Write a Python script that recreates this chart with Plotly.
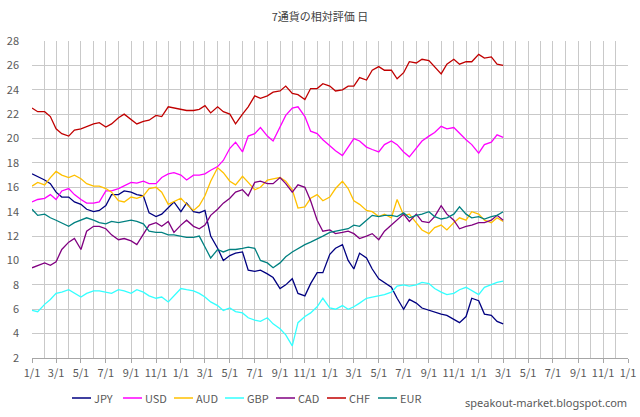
import plotly.graph_objects as go
import pandas as pd

# semi-monthly observation dates (1st and 15th), Jan 2021 - Mar 2024
dates = pd.date_range("2021-01-01", "2024-03-01", freq="SMS")

series_names = ["JPY", "USD", "AUD", "GBP", "CAD", "CHF", "EUR"]
series_colors = ["#000080", "#FF00FF", "#FFC000", "#33FFFF", "#800080", "#C00000", "#008080"]

JPY = [17.1, 16.9, 16.6, 16.3, 15.6, 15.2, 15.2, 14.8, 14.6, 14.2, 14.0, 14.1, 14.5,
       15.4, 15.4, 15.7, 15.6, 15.4, 15.3, 13.9, 13.6, 13.8, 14.3, 14.8, 14.0, 14.7,
       14.0, 13.9, 14.1, 12.0, 11.0, 10.0, 10.4, 10.6, 10.7, 9.2, 9.1, 9.2,
       8.9, 8.6, 7.7, 8.0, 8.5, 7.3, 7.1, 8.1, 9.0, 9.0, 10.5, 11.0, 11.3,
       10.0, 9.3, 10.6, 10.2, 9.3, 8.5, 8.2, 7.8, 6.9, 6.0, 6.8, 6.5,
       6.1, 5.9, 5.8, 5.6, 5.5, 5.2, 4.9, 5.4, 6.9, 6.7, 5.6, 5.5, 5.0, 4.8]
USD = [14.8, 15.0, 15.1, 15.4, 15.0, 15.7, 15.9, 15.4, 15.0, 14.7, 14.7, 14.8, 15.7,
       15.7, 15.9, 16.1, 16.4, 16.35, 16.5, 16.3, 16.3, 16.8, 17.1, 17.2, 17.0, 16.6,
       17.0, 17.0, 17.1, 17.4, 17.7, 18.2, 19.2, 19.7, 18.9, 20.2, 20.4, 20.9,
       20.2, 19.8, 21.0, 21.9, 22.5, 22.6, 21.8, 20.6, 20.4, 19.9, 19.4, 19.0, 18.6,
       19.3, 20.0, 19.8, 19.3, 19.1, 18.9, 19.5, 19.8, 19.5, 18.9, 18.5, 19.2,
       19.8, 20.2, 20.5, 21.0, 20.8, 20.9, 20.4, 19.9, 19.5, 18.8, 19.5, 19.7, 20.3, 20.1]
AUD = [16.1, 16.4, 16.2, 16.8, 17.3, 17.0, 16.8, 17.0, 16.7, 16.3, 16.1, 16.1, 15.9,
       15.6, 14.9, 14.8, 15.2, 15.1, 15.3, 15.9, 16.0, 15.6, 14.6, 14.8, 15.1, 14.6,
       14.1, 14.5, 15.3, 16.5, 17.6, 17.2, 16.5, 16.2, 16.9, 16.4, 15.8, 16.0,
       16.6, 16.7, 16.8, 16.5, 15.8, 14.3, 14.4, 15.1, 15.4, 14.9, 15.2, 15.9, 16.5,
       15.9, 14.9, 14.6, 14.1, 14.0, 13.6, 13.8, 13.5, 15.0, 13.7, 13.8, 13.1,
       12.5, 12.2, 12.7, 12.9, 12.5, 13.1, 13.5, 13.3, 14.0, 13.8, 13.3, 13.1, 13.5, 13.2]
GBP = [5.9, 5.8, 6.4, 6.8, 7.3, 7.4, 7.6, 7.3, 7.0, 7.3, 7.5, 7.5, 7.4,
       7.3, 7.6, 7.5, 7.3, 7.6, 7.4, 7.1, 6.9, 7.0, 6.6, 7.1, 7.7, 7.6,
       7.5, 7.3, 7.0, 6.6, 6.3, 5.9, 6.1, 5.8, 5.7, 5.3, 5.1, 5.0,
       5.3, 4.8, 4.4, 3.9, 3.0, 4.9, 5.4, 5.7, 6.2, 6.9, 6.1, 6.0, 6.3,
       6.0, 6.2, 6.5, 6.9, 7.0, 7.1, 7.2, 7.4, 7.9, 8.0, 7.9, 8.0,
       8.2, 8.1, 7.7, 7.4, 7.2, 7.3, 7.6, 7.8, 7.5, 7.2, 7.8, 8.0, 8.2, 8.3]
CAD = [9.4, 9.6, 9.8, 9.6, 9.9, 10.9, 11.5, 11.8, 10.9, 12.4, 12.8, 12.8, 12.6,
       12.1, 11.7, 11.8, 11.6, 11.3, 12.2, 12.9, 13.1, 12.8, 13.2, 12.3, 12.9, 13.3,
       12.8, 12.6, 12.9, 13.7, 14.2, 14.7, 15.1, 15.6, 15.8, 15.3, 16.4, 16.5,
       16.3, 16.3, 16.8, 16.3, 15.6, 16.2, 16.0, 14.9, 13.3, 12.4, 12.5, 12.2, 12.3,
       12.4, 12.2, 11.8, 12.0, 12.2, 11.7, 12.4, 12.9, 13.3, 13.8, 13.2, 13.8,
       13.2, 13.1, 13.6, 14.5, 13.8, 13.3, 12.6, 12.8, 12.9, 13.1, 13.1, 13.3, 13.7, 13.3]
CHF = [22.5, 22.2, 22.2, 21.8, 20.8, 20.4, 20.2, 20.7, 20.8, 21.0, 21.2, 21.3, 20.95,
       21.2, 21.7, 22.0, 21.6, 21.2, 21.4, 21.5, 21.9, 21.8, 22.6, 22.5, 22.4, 22.3,
       22.3, 22.4, 22.7, 22.1, 22.6, 22.2, 22.0, 21.2, 22.0, 22.6, 23.5, 23.3,
       23.5, 23.8, 23.9, 24.3, 23.7, 23.6, 23.2, 24.1, 24.1, 24.5, 24.3, 23.9, 24.0,
       24.3, 24.3, 25.0, 24.8, 25.6, 25.9, 25.6, 25.6, 24.9, 25.4, 26.3, 26.2,
       26.5, 26.4, 25.9, 25.3, 26.1, 26.5, 26.1, 26.3, 26.3, 26.9, 26.6, 26.7, 26.1, 26.0]
EUR = [14.2, 13.7, 13.8, 13.5, 13.3, 13.1, 12.8, 13.1, 13.3, 13.5, 13.3, 13.1, 13.0,
       13.2, 13.1, 13.2, 13.3, 13.2, 13.0, 12.4, 12.3, 12.3, 12.1, 12.1, 12.0, 11.9,
       11.9, 12.0, 11.1, 10.2, 10.9, 10.7, 10.9, 10.9, 11.0, 11.1, 11.0, 10.0,
       9.8, 9.4, 9.8, 10.3, 10.7, 11.0, 11.3, 11.5, 11.8, 12.0, 12.3, 12.4, 12.5,
       12.6, 12.9, 12.8, 13.3, 13.7, 13.6, 13.7, 13.7, 13.6, 13.9, 13.5, 13.7,
       13.8, 14.0, 13.6, 13.4, 13.5, 13.8, 14.4, 13.8, 13.5, 13.6, 13.4, 13.6, 13.7, 14.0]

values = [JPY, USD, AUD, GBP, CAD, CHF, EUR]

FONT = "Noto Sans CJK JP, Noto Sans, sans-serif"
GRID = "#c9c9c9"
TXT = "#595959"

W, H = 640, 417
ML, MR, MT, MB = 32, 12, 41, 59
PW, PH = W - ML - MR, H - MT - MB


def px_to_paper_x(px):
    return (px - ML) / PW


def px_to_paper_y(py):
    return (H - MB - py) / PH


fig = go.Figure()
for name, color, vals in zip(series_names, series_colors, values):
    fig.add_trace(go.Scatter(x=dates, y=vals, name=name, mode="lines",
                             line=dict(color=color, width=1.3), showlegend=False))

# Excel-style compact legend below the plot
shapes = []
annotations = []
leg_y = px_to_paper_y(398)
for i, (name, color) in enumerate(zip(series_names, series_colors)):
    x0 = 72 + 51 * i
    shapes.append(dict(type="line", xref="paper", yref="paper",
                       x0=px_to_paper_x(x0), x1=px_to_paper_x(x0 + 19),
                       y0=leg_y, y1=leg_y, line=dict(color=color, width=1.5)))
    annotations.append(dict(text=name, xref="paper", yref="paper",
                            x=px_to_paper_x(x0 + 20), y=leg_y, xanchor="left", yanchor="middle",
                            showarrow=False, font=dict(family=FONT, size=11, color=TXT)))

annotations.append(dict(text="speakout-market.blogspot.com", xref="paper", yref="paper",
                        x=px_to_paper_x(546), y=px_to_paper_y(402), xanchor="center",
                        yanchor="middle", showarrow=False,
                        font=dict(family="Noto Sans, sans-serif", size=11, color=TXT)))

fig.update_layout(
    width=W, height=H,
    margin=dict(l=ML, r=MR, t=MT, b=MB, autoexpand=False),
    paper_bgcolor="white", plot_bgcolor="white",
    font=dict(family=FONT, size=11, color=TXT),
    title=dict(text="7通貨の相対評価 日", x=0.5, xanchor="center", y=1 - 17 / H, yanchor="middle",
               font=dict(family=FONT, size=11, color="#404040")),
    showlegend=False,
    shapes=shapes,
    annotations=annotations,
)

fig.update_xaxes(
    type="date", range=["2021-01-01", "2025-01-01"],
    tick0="2021-01-01", dtick="M2", tickformat="%-m/%-d",
    ticks="outside", ticklen=4, tickcolor="#a6a6a6", ticklabelstandoff=1,
    ticklabeloverflow="allow",
    showgrid=True, gridcolor=GRID, gridwidth=1,
    minor=dict(dtick="M1", tick0="2021-01-01", showgrid=True, gridcolor=GRID, gridwidth=1),
    showline=True, linecolor="#a6a6a6", linewidth=1,
    tickfont=dict(family=FONT, size=11, color=TXT), zeroline=False,
)
fig.update_yaxes(
    range=[2, 28], dtick=2, tick0=2,
    showgrid=True, gridcolor=GRID, gridwidth=1,
    showline=False, zeroline=False, ticks="", ticklabelstandoff=12,
    tickfont=dict(family=FONT, size=11, color=TXT),
)

fig.write_html("out.html", config={"displayModeBar": False},
               post_script="document.body.style.margin='0px';")
